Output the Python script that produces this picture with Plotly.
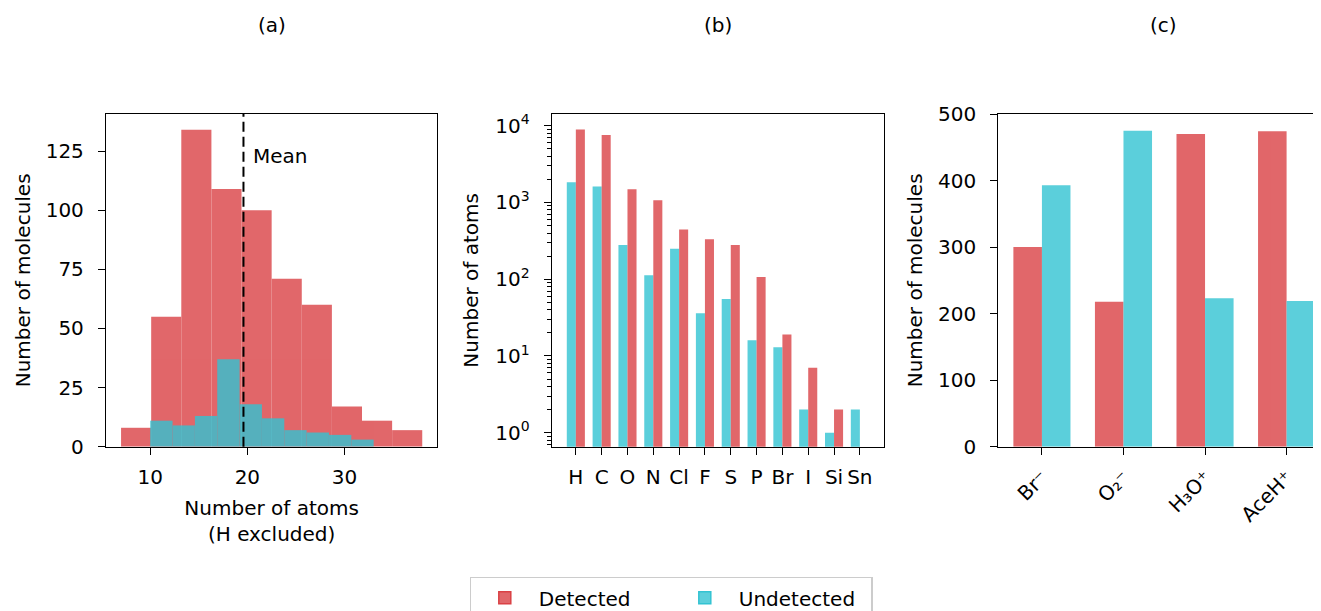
import plotly.graph_objects as go

# ---------------- data ----------------
# (a) histograms of number of heavy atoms
det_edges = [7.0, 10.1, 13.2, 16.3, 19.4, 22.5, 25.6, 28.7, 31.8, 34.9, 38.0]
det_counts = [8, 55, 134, 109, 100, 71, 60, 17, 11, 7]
und_edges = [10.0, 12.3, 14.6, 16.9, 19.2, 21.5, 23.8, 26.1, 28.4, 30.7, 33.0]
und_counts = [11, 9, 13, 37, 18, 12, 7, 6, 5, 3]
mean_atoms = 19.6

# (b) atoms per element (log scale)
elements = ["H", "C", "O", "N", "Cl", "F", "S", "P", "Br", "I", "Si", "Sn"]
det_atoms = [8960, 7550, 1490, 1070, 443, 331, 279, 107, 19, 7, 2, None]
und_atoms = [1840, 1610, 279, 113, 250, 36, 55, 16, 13, 2, 1, 2]
log_tickvals = [1, 10, 100, 1000, 10000]
log_ticktext = ["10<sup>0</sup>", "10<sup>1</sup>", "10<sup>2</sup>", "10<sup>3</sup>", "10<sup>4</sup>"]

# (c) molecules per reagent ion
ions = ["Br⁻", "O₂⁻", "H₃O⁺", "AceH⁺"]
det_ions = [300, 218, 470, 474]
und_ions = [393, 475, 223, 219]

# ---------------- style ----------------
W, H = 1321, 611
OFF = 8  # page body margin of the html page
RED = "rgb(218,65,69)"
TEAL = "rgb(51,195,210)"
RED_A = "rgba(218,65,69,0.8)"
TEAL_A = "rgba(51,195,210,0.8)"
ALPHA = 0.8
FONT = "DejaVu Sans"
FS = 20
BAR_W = 0.35


def px_x(p):
    return (p - OFF) / W


def px_y(p):
    return 1 - (p - OFF) / H


fig = go.Figure()

# (a) histograms
det_centers = [(det_edges[i] + det_edges[i + 1]) / 2 for i in range(len(det_counts))]
det_widths = [det_edges[i + 1] - det_edges[i] for i in range(len(det_counts))]
und_centers = [(und_edges[i] + und_edges[i + 1]) / 2 for i in range(len(und_counts))]
und_widths = [und_edges[i + 1] - und_edges[i] for i in range(len(und_counts))]

fig.add_trace(go.Bar(x=det_centers, y=det_counts, width=det_widths, marker=dict(color=RED, line=dict(width=0)),
                     opacity=ALPHA, name="Detected", showlegend=False, legendgroup="d", xaxis="x", yaxis="y"))
fig.add_trace(go.Bar(x=und_centers, y=und_counts, width=und_widths, marker=dict(color=TEAL, line=dict(width=0)),
                     opacity=ALPHA, name="Undetected", showlegend=False, legendgroup="u", xaxis="x", yaxis="y"))

# (b) elements
fig.add_trace(go.Bar(x=elements, y=und_atoms, width=BAR_W, offset=-BAR_W, marker=dict(color=TEAL, line=dict(width=0)),
                     opacity=ALPHA, name="Undetected", showlegend=False, legendgroup="u", xaxis="x2", yaxis="y2"))
fig.add_trace(go.Bar(x=elements, y=det_atoms, width=BAR_W, offset=0, marker=dict(color=RED, line=dict(width=0)),
                     opacity=ALPHA, name="Detected", showlegend=False, legendgroup="d", xaxis="x2", yaxis="y2"))

# (c) ions
fig.add_trace(go.Bar(x=ions, y=det_ions, width=BAR_W, offset=-BAR_W, marker=dict(color=RED, line=dict(width=0)),
                     opacity=ALPHA, name="Detected", showlegend=False, legendgroup="d", xaxis="x3", yaxis="y3"))
fig.add_trace(go.Bar(x=ions, y=und_ions, width=BAR_W, offset=0, marker=dict(color=TEAL, line=dict(width=0)),
                     opacity=ALPHA, name="Undetected", showlegend=False, legendgroup="u", xaxis="x3", yaxis="y3"))

# legend proxies (no data of their own)
fig.add_trace(go.Bar(x=[None], y=[None], marker=dict(color=RED_A, line=dict(color=RED, width=1.5)),
                     name="Detected", legendgroup="d", showlegend=True, xaxis="x3", yaxis="y3"))
fig.add_trace(go.Bar(x=[None], y=[None], marker=dict(color=TEAL_A, line=dict(color=TEAL, width=1.5)),
                     name="Undetected", legendgroup="u", showlegend=True, xaxis="x3", yaxis="y3"))

axis_common = dict(showline=True, linecolor="black", linewidth=1.3, ticks="outside", ticklen=7, tickwidth=1.3,
                   tickcolor="black", showgrid=False, zeroline=False, automargin=False,
                   tickfont=dict(family=FONT, size=FS, color="black"))
xstand = dict(ticklabelstandoff=5)
ystand = dict(ticklabelstandoff=10)
ydom = [px_y(446.7), px_y(114)]

fig.update_layout(
    width=W, height=H,
    margin=dict(l=0, r=0, t=0, b=0),
    paper_bgcolor="white", plot_bgcolor="white",
    barmode="overlay",
    font=dict(family=FONT, size=FS, color="black"),
    xaxis=dict(domain=[px_x(106), px_x(437.3)], range=[5.45, 39.55], tickvals=[10, 20, 30], mirror=True,
               title=dict(text="Number of atoms<br>(H excluded)", standoff=13, font=dict(family=FONT, size=FS)),
               anchor="y", **xstand, **axis_common),
    yaxis=dict(domain=ydom, range=[0, 140.7], tickvals=[0, 25, 50, 75, 100, 125], mirror=True,
               title=dict(text="Number of molecules", standoff=9, font=dict(family=FONT, size=FS)),
               anchor="x", **ystand, **axis_common),
    xaxis2=dict(domain=[px_x(551.7), px_x(884)], range=[-0.935, 11.935], type="category", mirror=True,
                anchor="y2", **xstand, **axis_common),
    yaxis2=dict(domain=ydom, type="log", range=[-0.183, 4.153], tickvals=log_tickvals, ticktext=log_ticktext,
                mirror=True, anchor="x2",
                minor=dict(ticks="outside", dtick="D1", ticklen=4, tickwidth=1, tickcolor="black", showgrid=False),
                title=dict(text="Number of atoms", standoff=11, font=dict(family=FONT, size=FS)),
                **ystand, **axis_common),
    xaxis3=dict(domain=[px_x(998.3), 1.0], range=[-0.535, 3.52], type="category", mirror=True, tickangle=-45,
                anchor="y3", ticklabelstandoff=3, **axis_common),
    yaxis3=dict(domain=ydom, range=[0, 500], tickvals=[0, 100, 200, 300, 400, 500], mirror=False, anchor="x3",
                title=dict(text="Number of molecules", standoff=9, font=dict(family=FONT, size=FS)),
                **ystand, **axis_common),
    legend=dict(orientation="h",
                x=(671 - OFF) / W, xanchor="center", y=1 - (577 - OFF) / H, yanchor="top",
                bgcolor="white", bordercolor="#cccccc", borderwidth=1.3,
                font=dict(family=FONT, size=FS, color="black"),
                itemwidth=58, entrywidth=127, traceorder="normal"),
)

# mean line and label
fig.add_shape(type="line", xref="x", yref="y domain", x0=mean_atoms, x1=mean_atoms, y0=0, y1=1,
              line=dict(color="black", width=2, dash="10px,5px"))
fig.add_annotation(x=20.4, y=123, xref="x", yref="y", text="Mean", showarrow=False, xanchor="left",
                   yanchor="middle", font=dict(family=FONT, size=FS, color="black"))

# panel titles
for lbl, cx in [("(a)", (106 + 437.3) / 2), ("(b)", (551.7 + 884) / 2), ("(c)", (998.3 + 1329.6) / 2)]:
    fig.add_annotation(x=px_x(cx), y=px_y(25), xref="paper", yref="paper", text=lbl, showarrow=False,
                       xanchor="center", yanchor="middle", font=dict(family=FONT, size=FS, color="black"))

fig.write_html("out.html")
